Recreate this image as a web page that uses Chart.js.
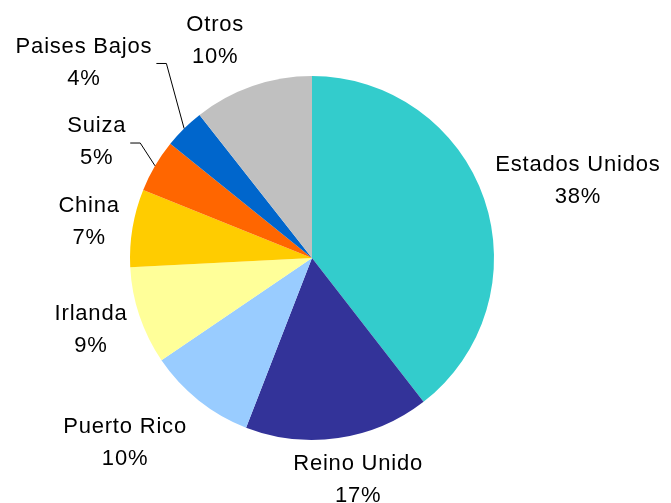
<!DOCTYPE html>
<html>
<head>
<meta charset="utf-8">
<script src="https://cdn.jsdelivr.net/npm/chart.js@4"></script>
<style>
    html, body { margin: 0; padding: 0; background: #fff; }
    #wrap { width: 671px; height: 503px; position: relative; }
</style>
</head>
<body>
<div id="wrap"><canvas id="pieChart"></canvas></div>
<script>
// ===== DATA =====
const countries = ['Estados Unidos', 'Reino Unido', 'Puerto Rico', 'Irlanda', 'China', 'Suiza', 'Paises Bajos', 'Otros'];
// slice sizes (share of the circle, %)
const shares = [39.5, 16.4, 9.6, 8.7, 6.9, 4.7, 3.6, 10.6];
// percentage text printed next to each slice
const pctLabels = ['38%', '17%', '10%', '9%', '7%', '5%', '4%', '10%'];
const sliceColors = ['#33CCCC', '#333399', '#99CCFF', '#FFFF99', '#FFCC00', '#FF6600', '#0066CC', '#C0C0C0'];

// label placement: distance from centre and angle shift (deg) from the slice middle
const labelPlace = [
    { dist: 277, shift: 2.6 },
    { dist: 226, shift: -3.5 },
    { dist: 262, shift: 7 },
    { dist: 232, shift: 0.8 },
    { dist: 226, shift: 0 },
    { dist: 245, shift: -1.9, leader: true },
    { dist: 301, shift: -4.6, leader: true },
    { dist: 239, shift: -4.8 }
];

const FONT = '22px "Liberation Sans", Arial, sans-serif';
const LINE_GAP = 32;

// draws the two-line labels and the leader lines
const pieLabels = {
    id: 'pieLabels',
    afterDraw(chart) {
        const ctx = chart.ctx;
        const meta = chart.getDatasetMeta(0);
        ctx.save();
        ctx.font = FONT;
        if ('letterSpacing' in ctx) ctx.letterSpacing = '0.8px';
        ctx.fillStyle = '#000';
        ctx.textAlign = 'center';
        ctx.textBaseline = 'middle';
        meta.data.forEach((arc, i) => {
            const p = arc.getProps(['x', 'y', 'startAngle', 'endAngle', 'outerRadius'], true);
            const mid = (p.startAngle + p.endAngle) / 2;
            const place = labelPlace[i];
            const a = mid + place.shift * Math.PI / 180;
            const lx = p.x + Math.cos(a) * place.dist;
            const ly = p.y + Math.sin(a) * place.dist;
            ctx.fillText(countries[i], lx, ly - LINE_GAP / 2 + 1);
            ctx.fillText(pctLabels[i], lx, ly + LINE_GAP / 2 + 1);

            if (place.leader) {
                const w = Math.max(ctx.measureText(countries[i]).width, ctx.measureText(pctLabels[i]).width);
                const sx = lx + w / 2 + 4;
                const sy = ly + 2;
                const ex = p.x + Math.cos(mid) * p.outerRadius;
                const ey = p.y + Math.sin(mid) * p.outerRadius;
                ctx.beginPath();
                ctx.strokeStyle = '#000';
                ctx.lineWidth = 1;
                ctx.moveTo(sx, sy);
                ctx.lineTo(sx + 10, sy);
                ctx.lineTo(ex, ey);
                ctx.stroke();
            }
        });
        ctx.restore();
    }
};

function renderPie() {
    const ctx = document.getElementById('pieChart');
    new Chart(ctx, {
        type: 'pie',
        data: {
            labels: countries,
            datasets: [{
                data: shares,
                backgroundColor: sliceColors,
                borderWidth: 0
            }]
        },
        options: {
            responsive: true,
            maintainAspectRatio: false,
            animation: false,
            layout: { padding: { top: 76, bottom: 63, left: 130, right: 177 } },
            plugins: {
                legend: { display: false },
                tooltip: { enabled: false }
            }
        },
        plugins: [pieLabels]
    });
}

window.addEventListener('DOMContentLoaded', renderPie);
</script>
</body>
</html>
